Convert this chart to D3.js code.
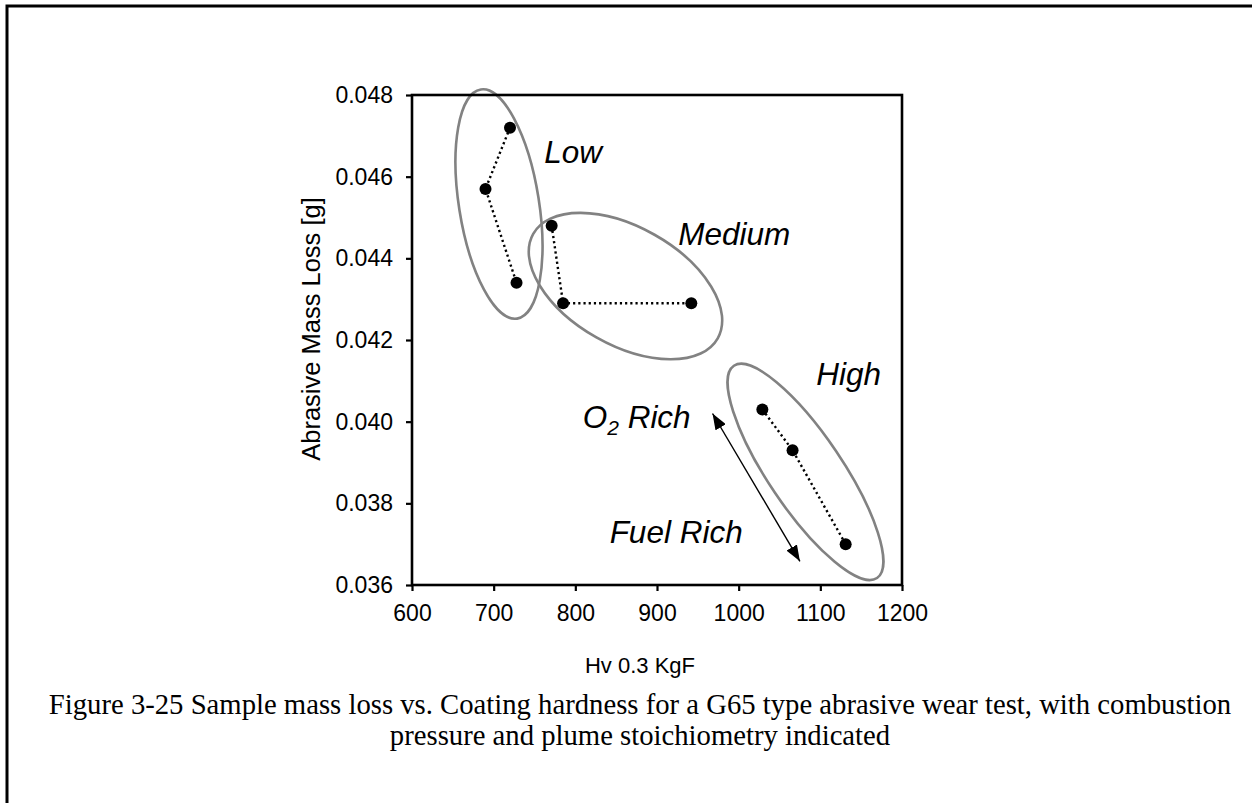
<!DOCTYPE html>
<html>
<head>
<meta charset="utf-8">
<script src="https://cdn.jsdelivr.net/npm/d3@7"></script>
<style>
  html, body { margin: 0; padding: 0; background: #fff; }
  svg { display: block; }
  .sans { font-family: "Liberation Sans", Arial, sans-serif; }
  .serif { font-family: "Liberation Serif", "Times New Roman", serif; }
</style>
</head>
<body>
<svg id="chart" width="1252" height="803"></svg>
<script>
// Hardness (Hv 0.3 KgF) and abrasive mass loss (g) for each combustion pressure group
const groups = ["Low", "Medium", "High"];
const lowHv = [720, 690, 728];
const lowLoss = [0.0472, 0.0457, 0.0434];
const mediumHv = [771, 785, 942];
const mediumLoss = [0.0448, 0.0429, 0.0429];
const highHv = [1029, 1066, 1131];
const highLoss = [0.0403, 0.0393, 0.0370];

const xTicks = [600, 700, 800, 900, 1000, 1100, 1200];
const yTicks = [0.036, 0.038, 0.040, 0.042, 0.044, 0.046, 0.048];

// Group outlines: centre in data units
const groupCentreHv = [706.5, 861.4, 1081.8];
const groupCentreLoss = [0.04533, 0.04332, 0.03877];

// Stoichiometry arrow ends (O2 rich -> fuel rich)
const arrowHv = [968, 1075];
const arrowLoss = [0.04020, 0.03658];

const xLabel = "Hv 0.3 KgF";
const yLabel = "Abrasive Mass Loss [g]";
const captionLines = [
  "Figure 3-25 Sample mass loss vs. Coating hardness for a G65 type abrasive wear test, with combustion",
  "pressure and plume stoichiometry indicated"
];

const series = [
  { name: groups[0], hv: lowHv, loss: lowLoss },
  { name: groups[1], hv: mediumHv, loss: mediumLoss },
  { name: groups[2], hv: highHv, loss: highLoss }
];

const svg = d3.select("#chart");
const plot = { left: 412, top: 95, right: 902, bottom: 585 };

const x = d3.scaleLinear().domain([600, 1200]).range([plot.left, plot.right]);
const y = d3.scaleLinear().domain([0.036, 0.048]).range([plot.bottom, plot.top]);

// page frame (top and left rules)
svg.append("path")
  .attr("d", "M7,803 V6 H1252")
  .attr("fill", "none").attr("stroke", "#000").attr("stroke-width", 3);

// outline ellipses around each group
const ellipseShape = [
  { rx: 116, ry: 40, angle: 81 },
  { rx: 106, ry: 59, angle: 29.5 },
  { rx: 128, ry: 37, angle: 56 }
];
svg.append("g").selectAll("ellipse")
  .data(groups)
  .join("ellipse")
  .attr("cx", 0).attr("cy", 0)
  .attr("rx", (d, i) => ellipseShape[i].rx)
  .attr("ry", (d, i) => ellipseShape[i].ry)
  .attr("transform", (d, i) =>
    `translate(${x(groupCentreHv[i])},${y(groupCentreLoss[i])}) rotate(${ellipseShape[i].angle})`)
  .attr("fill", "none").attr("stroke", "#828282").attr("stroke-width", 2.6);

// dotted connecting lines
const line = d3.line().x(d => x(d[0])).y(d => y(d[1]));
svg.append("g").selectAll("path")
  .data(series)
  .join("path")
  .attr("d", s => line(s.hv.map((h, i) => [h, s.loss[i]])))
  .attr("fill", "none").attr("stroke", "#000")
  .attr("stroke-width", 2.4).attr("stroke-dasharray", "2.2,3");

// points
svg.append("g").selectAll("circle")
  .data(series.flatMap(s => s.hv.map((h, i) => [h, s.loss[i]])))
  .join("circle")
  .attr("cx", d => x(d[0])).attr("cy", d => y(d[1]))
  .attr("r", 6).attr("fill", "#000");

// double-headed arrow
const defs = svg.append("defs");
defs.append("marker")
  .attr("id", "tri").attr("viewBox", "0 0 16 12")
  .attr("refX", 16).attr("refY", 6)
  .attr("markerWidth", 16).attr("markerHeight", 12)
  .attr("markerUnits", "userSpaceOnUse")
  .attr("orient", "auto-start-reverse")
  .append("path").attr("d", "M0,0 L16,6 L0,12 Z").attr("fill", "#000");
svg.append("line")
  .attr("x1", x(arrowHv[0])).attr("y1", y(arrowLoss[0]))
  .attr("x2", x(arrowHv[1])).attr("y2", y(arrowLoss[1]))
  .attr("stroke", "#000").attr("stroke-width", 1.4)
  .attr("marker-start", "url(#tri)").attr("marker-end", "url(#tri)");

// axes
const xAxis = d3.axisBottom(x).tickValues(xTicks).tickSize(6).tickPadding(14).tickFormat(d3.format("d"));
const yAxis = d3.axisLeft(y).tickValues(yTicks).tickSize(6).tickPadding(13).tickFormat(d3.format(".3f"));

const gx = svg.append("g").attr("transform", `translate(0,${plot.bottom})`).call(xAxis);
const gy = svg.append("g").attr("transform", `translate(${plot.left},0)`).call(yAxis);
[gx, gy].forEach(g => {
  g.attr("font-family", null).attr("font-size", null);
  g.select(".domain").remove();
  g.selectAll(".tick line").attr("stroke", "#000").attr("stroke-width", 2.2);
  g.selectAll(".tick text").attr("class", "sans").attr("font-size", 23).attr("fill", "#000");
});

// plot frame
svg.append("rect")
  .attr("x", plot.left).attr("y", plot.top)
  .attr("width", plot.right - plot.left).attr("height", plot.bottom - plot.top)
  .attr("fill", "none").attr("stroke", "#000").attr("stroke-width", 2.6);

// axis titles
svg.append("text").attr("class", "sans")
  .attr("x", 640).attr("y", 673)
  .attr("text-anchor", "middle").attr("font-size", 22).text(xLabel);
svg.append("text").attr("class", "sans")
  .attr("transform", `translate(320,329) rotate(-90)`)
  .attr("text-anchor", "middle").attr("font-size", 25.5).text(yLabel);

// group and stoichiometry annotations
const notes = [
  { text: groups[0], hv: 762, loss: 0.04633 },
  { text: groups[1], hv: 926, loss: 0.04433 },
  { text: groups[2], hv: 1095, loss: 0.0409 },
  { text: "Fuel Rich", hv: 842, loss: 0.03703 }
];
svg.append("g").selectAll("text")
  .data(notes)
  .join("text")
  .attr("class", "sans")
  .attr("x", d => x(d.hv)).attr("y", d => y(d.loss))
  .attr("font-size", 31.5).attr("font-style", "italic")
  .text(d => d.text);

const o2 = svg.append("text").attr("class", "sans")
  .attr("x", x(809)).attr("y", y(0.03984))
  .attr("font-size", 31.5).attr("font-style", "italic");
o2.append("tspan").text("O");
o2.append("tspan").attr("font-size", 21).attr("dy", 7).text("2");
o2.append("tspan").attr("dy", -7).text(" Rich");

// caption
svg.append("g").selectAll("text")
  .data(captionLines)
  .join("text")
  .attr("class", "serif")
  .attr("x", 640).attr("y", (d, i) => 714 + i * 31)
  .attr("text-anchor", "middle").attr("font-size", 28.7)
  .text(d => d);
</script>
</body>
</html>
